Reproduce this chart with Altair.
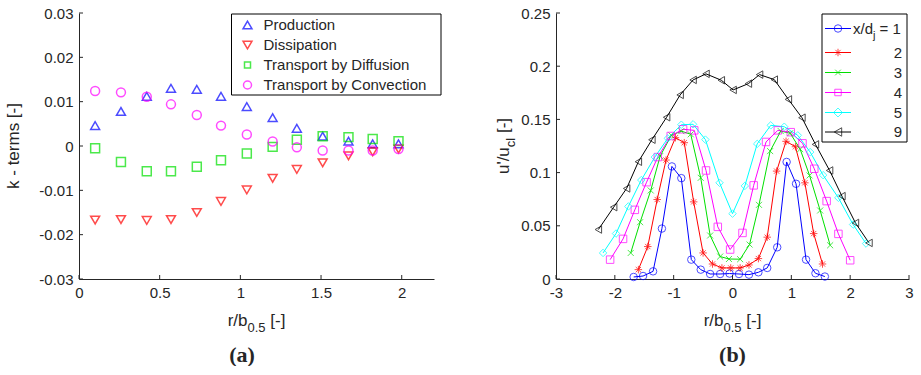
import altair as alt
import pandas as pd

# ---------------- data: panel (a) ----------------
r_left = [0.10, 0.26, 0.42, 0.57, 0.73, 0.88, 1.04, 1.20, 1.35, 1.51, 1.67, 1.82, 1.98]
production = [0.0046, 0.0078, 0.0112, 0.0130, 0.0128, 0.0112, 0.0089, 0.0064, 0.0040, 0.0022, 0.0011, 0.0005, 0.0005]
dissipation = [-0.0167, -0.0166, -0.0168, -0.0166, -0.0150, -0.0125, -0.0099, -0.0073, -0.0053, -0.0038, -0.0022, -0.0013, -0.0007]
diffusion = [-0.0005, -0.0036, -0.0057, -0.0057, -0.0047, -0.0032, -0.0017, -0.0002, 0.0014, 0.0022, 0.0020, 0.0016, 0.0011]
convection = [0.0124, 0.0121, 0.0111, 0.0094, 0.0070, 0.0046, 0.0026, 0.0010, -0.0003, -0.0010, -0.0010, -0.0010, -0.0007]
terms = ["Production", "Dissipation", "Transport by Diffusion", "Transport by Convection"]

# ---------------- data: panel (b) ----------------
s1_x = [-1.68, -1.52, -1.35, -1.20, -1.03, -0.87, -0.70, -0.54, -0.38, -0.21, -0.05, 0.11, 0.28, 0.44, 0.59, 0.76, 0.92, 1.08, 1.25, 1.41, 1.57]
s1_y = [0.0019, 0.0028, 0.0072, 0.0474, 0.1058, 0.0948, 0.0182, 0.0088, 0.0047, 0.0047, 0.0051, 0.0047, 0.0041, 0.0063, 0.0104, 0.0298, 0.1100, 0.0895, 0.0182, 0.0054, 0.0023]
s2_x = [-1.60, -1.44, -1.28, -1.13, -0.97, -0.82, -0.66, -0.50, -0.34, -0.18, -0.03, 0.13, 0.28, 0.44, 0.59, 0.75, 0.91, 1.07, 1.23, 1.38, 1.53]
s2_y = [0.0088, 0.0305, 0.0747, 0.1118, 0.1328, 0.1281, 0.0725, 0.0245, 0.0141, 0.0104, 0.0104, 0.0104, 0.0132, 0.0192, 0.0393, 0.1014, 0.1294, 0.1243, 0.0904, 0.0427, 0.0141]
s3_x = [-1.73, -1.57, -1.39, -1.23, -1.04, -0.87, -0.71, -0.54, -0.38, -0.21, -0.06, 0.13, 0.29, 0.45, 0.64, 0.82, 0.98, 1.15, 1.31, 1.49, 1.66]
s3_y = [0.0245, 0.0534, 0.0832, 0.1155, 0.1350, 0.1390, 0.1360, 0.0951, 0.0409, 0.0211, 0.0188, 0.0186, 0.0324, 0.0697, 0.1202, 0.1390, 0.1370, 0.1220, 0.0973, 0.0644, 0.0317]
s4_x = [-2.08, -1.86, -1.66, -1.46, -1.27, -1.05, -0.84, -0.65, -0.45, -0.25, -0.04, 0.17, 0.36, 0.57, 0.77, 0.99, 1.19, 1.39, 1.60, 1.80, 2.00]
s4_y = [0.0182, 0.0377, 0.0650, 0.0910, 0.1146, 0.1344, 0.1407, 0.1397, 0.1020, 0.0490, 0.0277, 0.0433, 0.0880, 0.1288, 0.1397, 0.1380, 0.1275, 0.1036, 0.0732, 0.0424, 0.0176]
s5_x = [-2.20, -1.98, -1.77, -1.55, -1.32, -1.10, -0.87, -0.67, -0.46, -0.22, 0.00, 0.21, 0.42, 0.65, 0.88, 1.11, 1.32, 1.54, 1.80, 2.05, 2.27]
s5_y = [0.0245, 0.0427, 0.0682, 0.0930, 0.1146, 0.1322, 0.1450, 0.1454, 0.1310, 0.0904, 0.0614, 0.0875, 0.1270, 0.1444, 0.1431, 0.1350, 0.1193, 0.0976, 0.0763, 0.0512, 0.0333]
s9_x = [-2.28, -2.02, -1.80, -1.60, -1.37, -1.12, -0.89, -0.67, -0.45, -0.19, 0.01, 0.27, 0.46, 0.71, 0.95, 1.18, 1.41, 1.65, 1.86, 2.09, 2.32]
s9_y = [0.0465, 0.0675, 0.0851, 0.1102, 0.1309, 0.1520, 0.1730, 0.1871, 0.1928, 0.1868, 0.1777, 0.1836, 0.1921, 0.1874, 0.1688, 0.1516, 0.1265, 0.1020, 0.0779, 0.0527, 0.0339]
series_names = ["1", "2", "3", "4", "5", "9"]

# ticks
xticks_left = [0, 0.5, 1, 1.5, 2]
yticks_left = [-0.03, -0.02, -0.01, 0, 0.01, 0.02, 0.03]
xticks_right = [-3, -2, -1, 0, 1, 2, 3]
yticks_right = [0, 0.05, 0.1, 0.15, 0.2, 0.25]

# ---------------- styling ----------------
FONT = "Liberation Sans"
TXT = "#262626"
AX = "#262626"
W1, W2, H = 355, 353, 266
TICK = 4
left_colors = ["#0000FF", "#FF0000", "#00E000", "#FF00FF"]
left_shapes = ["triangle-up", "triangle-down", "square", "circle"]
left_sizes = [80, 80, 36, 64]
ASTER = "M-1,0L1,0M0,-1L0,1M-0.7,-0.7L0.7,0.7M-0.7,0.7L0.7,-0.7"
XSHAPE = "M-0.8,-0.8L0.8,0.8M-0.8,0.8L0.8,-0.8"
right_colors = ["#0000FF", "#FF0000", "#00E000", "#FF00FF", "#00FFFF", "#000000"]
right_shapes = ["circle", ASTER, XSHAPE, "square", "diamond", "triangle-left"]
right_sizes = [56, 56, 50, 42, 80, 72]

LBL = "replace(format(datum.value, '.2~f'), '\u2212', '-')"
one = pd.DataFrame({"a": [0]})

# approximate Arial advance widths (em)
CW = {"r": .333, "/": .278, "b": .556, "0": .556, ".": .278, "5": .556, " ": .278,
      "[": .278, "-": .333, "]": .278, "u": .556, "'": .191, "c": .5, "l": .222,
      "x": .5, "d": .556, "j": .222, "=": .584, "1": .556}


def tw(s, size):
    return sum(CW.get(ch, .556) for ch in s) * size


def composed(pieces, x, y, angle=0, center=True):
    """pieces: list of (text, fontsize, dy); leading spaces become offsets."""
    total = sum(tw(t, s) for t, s, _ in pieces)
    off = -total / 2 if center else 0
    layers = []
    for t, s, dy in pieces:
        stripped = t.lstrip(" ")
        off += tw(t[: len(t) - len(stripped)], s)
        kw = dict(text=stripped, font=FONT, fontSize=s, align="left", baseline="alphabetic",
                  color=TXT, dx=off, dy=dy)
        if angle:
            kw["angle"] = angle
        layers.append(alt.Chart(one).mark_text(**kw).encode(x=alt.value(x), y=alt.value(y)))
        off += tw(stripped, s)
    return layers


def text_at(t, x, y, size, align="left", baseline="middle", font=FONT, weight="normal", angle=0):
    kw = dict(text=t, font=font, fontSize=size, align=align, baseline=baseline,
              color=TXT, fontWeight=weight)
    if angle:
        kw["angle"] = angle
    return alt.Chart(one).mark_text(**kw).encode(x=alt.value(x), y=alt.value(y))


def box(x1, x2, y1, y2):
    return alt.Chart(one).mark_rect(fill="white", stroke="black", strokeWidth=1).encode(
        x=alt.value(x1), x2=alt.value(x2), y=alt.value(y1), y2=alt.value(y2))


# ---------------- panel (a) ----------------
rows = []
for name, vals in zip(terms, [production, dissipation, diffusion, convection]):
    for r, v in zip(r_left, vals):
        rows.append({"r": r, "k": v, "term": name})
left_df = pd.DataFrame(rows)

axL_x = alt.Axis(values=xticks_left, title=None, ticks=False, grid=False, labelPadding=6,
                 labelFlush=False, labelExpr=LBL, domainColor=AX)
axL_y = alt.Axis(values=yticks_left, title=None, ticks=False, grid=False, labelPadding=6,
                 labelFlush=False, labelExpr=LBL, domainColor=AX, minExtent=40, maxExtent=40)
xL = alt.X("r:Q", scale=alt.Scale(domain=[0, 2.2], nice=False, zero=False), axis=axL_x)
yL = alt.Y("k:Q", scale=alt.Scale(domain=[-0.03, 0.03], nice=False, zero=False), axis=axL_y)

pointsL = alt.Chart(left_df).mark_point(filled=False, strokeWidth=1.5).encode(
    x=xL, y=yL,
    color=alt.Color("term:N", scale=alt.Scale(domain=terms, range=left_colors), legend=None),
    shape=alt.Shape("term:N", scale=alt.Scale(domain=terms, range=left_shapes), legend=None),
    size=alt.Size("term:N", scale=alt.Scale(domain=terms, range=left_sizes), legend=None),
)
ytL = alt.Chart(pd.DataFrame({"k": yticks_left})).mark_rule(color=AX).encode(
    y=yL, x=alt.value(0), x2=alt.value(TICK))
xtL = alt.Chart(pd.DataFrame({"r": xticks_left})).mark_rule(color=AX).encode(
    x=xL, y=alt.value(H), y2=alt.value(H - TICK))

legL = [box(152.5, 362, 1, 82)]
for i, name in enumerate(terms):
    ry = 12 + i * 20
    legL.append(alt.Chart(one).mark_point(filled=False, strokeWidth=1.5, shape=left_shapes[i],
                                          color=left_colors[i], size=left_sizes[i]).encode(
        x=alt.value(168.5), y=alt.value(ry)))
    legL.append(text_at(name, 184.5, ry, 15))

titlesL = [text_at("k - terms [-]", -60, 133, 17, align="center", baseline="alphabetic", angle=270)]
titlesL += composed([("r/b", 17, 0), ("0.5", 13, 6), (" [-]", 17, 0)], W1 / 2, 313)
titlesL.append(text_at("(a)", 163, 342, 22, align="center", font="Liberation Serif", weight="bold"))

left = alt.layer(pointsL, ytL, xtL, *legL, *titlesL).properties(width=W1, height=H)

# ---------------- panel (b) ----------------
rows = []
for name, xs, ys in zip(series_names, [s1_x, s2_x, s3_x, s4_x, s5_x, s9_x],
                        [s1_y, s2_y, s3_y, s4_y, s5_y, s9_y]):
    for x, y in zip(xs, ys):
        rows.append({"rr": x, "u": y, "s": name})
right_df = pd.DataFrame(rows)

axR_x = alt.Axis(values=xticks_right, title=None, ticks=False, grid=False, labelPadding=6,
                 labelFlush=False, labelExpr=LBL, domainColor=AX)
axR_y = alt.Axis(values=yticks_right, title=None, ticks=False, grid=False, labelPadding=6,
                 labelFlush=False, labelExpr=LBL, domainColor=AX, minExtent=40, maxExtent=40)
xR = alt.X("rr:Q", scale=alt.Scale(domain=[-3, 3], nice=False, zero=False), axis=axR_x)
yR = alt.Y("u:Q", scale=alt.Scale(domain=[0, 0.25], nice=False, zero=False), axis=axR_y)
colR = alt.Color("s:N", scale=alt.Scale(domain=series_names, range=right_colors), legend=None)

linesR = alt.Chart(right_df).mark_line(strokeWidth=1).encode(x=xR, y=yR, color=colR, detail="s:N")
pointsR = alt.Chart(right_df).mark_point(filled=False, strokeWidth=1).encode(
    x=xR, y=yR, color=colR,
    shape=alt.Shape("s:N", scale=alt.Scale(domain=series_names, range=right_shapes), legend=None),
    size=alt.Size("s:N", scale=alt.Scale(domain=series_names, range=right_sizes), legend=None),
)
ytR = alt.Chart(pd.DataFrame({"u": yticks_right})).mark_rule(color=AX).encode(
    y=yR, x=alt.value(0), x2=alt.value(TICK))
xtR = alt.Chart(pd.DataFrame({"rr": xticks_right})).mark_rule(color=AX).encode(
    x=xR, y=alt.value(H), y2=alt.value(H - TICK))

legR = [box(266, 351, 1, 129)]
row_y = [15.5, 39.5, 59.5, 79.5, 99.5, 119]
for i, name in enumerate(series_names):
    ry = row_y[i]
    legR.append(alt.Chart(one).mark_rule(color=right_colors[i], strokeWidth=1).encode(
        x=alt.value(269), x2=alt.value(295), y=alt.value(ry)))
    legR.append(alt.Chart(one).mark_point(filled=False, strokeWidth=1, shape=right_shapes[i],
                                          color=right_colors[i], size=right_sizes[i]).encode(
        x=alt.value(282), y=alt.value(ry)))
    if i == 0:
        legR += composed([("x/d", 15, 0), ("j", 11, 5), (" = 1", 15, 0)], 297, ry + 5, center=False)
    else:
        legR.append(text_at(name, 346, ry, 15, align="right"))

titlesR = composed([("u'/u", 17, 0), ("cl", 13, 6), (" [-]", 17, 0)], -47, 133, angle=270)
titlesR += composed([("r/b", 17, 0), ("0.5", 13, 6), (" [-]", 17, 0)], W2 / 2, 313)
titlesR.append(text_at("(b)", W2 / 2, 342, 22, align="center", font="Liberation Serif", weight="bold"))

right = alt.layer(linesR, pointsR, ytR, xtR, *legR, *titlesR).properties(width=W2, height=H)

chart = alt.hconcat(left, right, spacing=53).resolve_scale(
    color="independent", shape="independent", size="independent"
).properties(
    padding={"left": 5, "top": 6, "right": 5, "bottom": 0}
).configure_view(stroke=None).configure_axis(
    labelFont=FONT, labelFontSize=15, labelColor=TXT, domainWidth=1
)

chart.save("out.html", embed_options={"renderer": "svg", "actions": False})
